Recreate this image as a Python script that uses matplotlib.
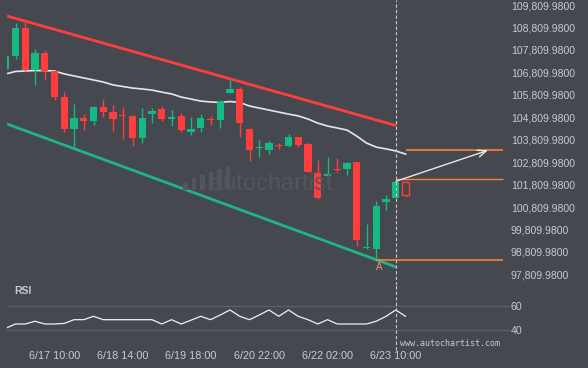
import matplotlib
matplotlib.use('Agg')
import matplotlib.pyplot as plt
from matplotlib.patches import Rectangle

# ---------------- data ----------------
opens = [106960, 107540, 108790, 106910, 107670, 106870, 105710, 104290, 104780, 104640,
         105270, 105040, 104910, 104870, 103890, 104950, 105180, 104730, 104870, 104150,
         104330, 104710, 104690, 105890, 106070, 104290, 103420, 103350, 103570, 103530,
         103930, 103620, 102330, 102190, 102480, 102500, 102820, 98990, 98940, 101040,
         101210, 101930]
highs = [107580, 109010, 109050, 107850, 107810, 106870, 105930, 105400, 104950, 105310,
         105620, 105360, 105270, 104910, 105220, 105220, 105310, 105130, 105000, 104820,
         104950, 104870, 105530, 106470, 106160, 104330, 103800, 103750, 103660, 104060,
         103930, 103710, 102910, 103040, 102990, 102820, 102820, 100060, 101080, 101350,
         102020, 101970]
lows = [106910, 107400, 106870, 106250, 106510, 105580, 104150, 103400, 104240, 104460,
        104820, 104200, 103840, 103530, 103660, 104550, 104640, 104420, 104150, 104020,
        104150, 104460, 104330, 105890, 103930, 102860, 103040, 103170, 103400, 103480,
        103480, 102370, 101170, 101840, 102370, 102240, 99080, 98940, 98450, 100680,
        101210, 101260]
closes = [107540, 108790, 106910, 107670, 106870, 105710, 104290, 104780, 104640, 105270,
          105040, 104730, 104870, 103890, 104780, 105090, 104730, 104820, 104240, 104290,
          104780, 104670, 105530, 106070, 104550, 103350, 103460, 103660, 103530, 103930,
          103570, 102370, 101210, 102280, 102440, 102770, 99340, 99030, 100860, 101170,
          101930, 101350]
ma_values = [106740, 106850, 106870, 106890, 106890, 106870, 106740, 106650, 106560, 106470,
             106380, 106250, 106180, 106110, 106070, 106020, 105930, 105850, 105710, 105620,
             105530, 105490, 105470, 105510, 105470, 105310, 105220, 105130, 105040, 104950,
             104870, 104730, 104550, 104420, 104330, 104240, 103970, 103660, 103480, 103400,
             103310, 103170]
rsi_values = [41.5, 45, 45, 47.3, 45, 45, 45.5, 48.6, 48.6, 51.4,
              48.6, 48.6, 48.6, 48.6, 48.6, 48.6, 45, 48.6, 45, 48.2,
              51.4, 48.6, 52.5, 56.7, 51.4, 48.6, 52.5, 56.7, 51.4, 56.7,
              51.4, 48.6, 45, 48.6, 45, 45, 45, 45, 47.3, 51.4,
              56.7, 51.4]
time_labels = ['6/17 10:00', '6/18 14:00', '6/19 18:00', '6/20 22:00', '6/22 02:00', '6/23 10:00']
time_label_idx = [5, 12, 19, 26, 33, 40]
price_ticks = [97809.98, 98809.98, 99809.98, 100809.98, 101809.98, 102809.98, 103809.98,
               104809.98, 105809.98, 106809.98, 107809.98, 108809.98, 109809.98]
rsi_ticks = [40, 60]

# channel / pattern geometry (index, price)
resist_x = [0.13, 40.03]
resist_y = [109320, 104440]
support_x = [0.13, 40.03]
support_y = [104510, 98140]
arrow_start = (40.03, 101960)
arrow_end = (49.46, 103338)
level_target = 103338
level_current = 102046
level_point_a = 98450
point_a_idx = 38
current_idx = 40

# ---------------- style ----------------
BG = '#45494f'
GREEN = '#17b982'
RED = '#ff3d3d'
TXT = '#c9cacc'
ORANGE = '#ff8030'
plt.rcParams['font.family'] = ['Liberation Sans', 'DejaVu Sans']

W, H = 588, 368
fig = plt.figure(figsize=(W / 100, H / 100), dpi=100, facecolor=BG)

x_left = (7 - 5.75) / 9.75
x_right = (505 - 5.75) / 9.75

ax = fig.add_axes([7 / W, (H - 285) / H, 498 / W, 285 / H], facecolor=BG)
ax.set_xlim(x_left, x_right)
ax.set_ylim(110032.7 - 44.543 * 285, 110032.7)

# watermark
fig.text(271 / W, 1 - 184 / H, 'autochartist', color='#52565c', fontsize=17,
         ha='center', va='center', zorder=0)
wm_heights = [8, 12, 15, 18, 21, 24]
for k, hgt in enumerate(wm_heights):
    fig.patches.append(Rectangle(((183 + 8.5 * k) / W, 1 - 190 / H), 4.5 / W, hgt / H,
                                 transform=fig.transFigure, facecolor='#52565c',
                                 edgecolor='none', zorder=0))

# MA line
idx = list(range(len(opens)))
ax.plot(idx, ma_values, color='#e6e6e6', lw=1.2, zorder=2)

# channel lines
ax.plot(resist_x, resist_y, color=RED, lw=2.0, solid_capstyle='butt', zorder=2)
ax.plot(support_x, support_y, color='#1db586', lw=2.0, solid_capstyle='butt', zorder=2)

# candles
bw = 0.72
minh = 45
for i in idx:
    o, h, l, c = opens[i], highs[i], lows[i], closes[i]
    col = GREEN if c >= o else RED
    ax.vlines(i, l, h, color=col, lw=1.0, zorder=3)
    bot = min(o, c)
    hh = max(abs(c - o), minh)
    if i == len(opens) - 1:
        ax.add_patch(Rectangle((i - bw / 2 + 0.05, bot), bw - 0.1, hh, facecolor=BG,
                               edgecolor=col, lw=1.0, zorder=4))
    else:
        ax.add_patch(Rectangle((i - bw / 2, bot), bw, hh, facecolor=col,
                               edgecolor='none', zorder=4))

# levels
ax.hlines(level_target, 41.05, 51.0, color=ORANGE, lw=1.2, zorder=3)
ax.hlines(level_current, 40.03, 51.0, color=ORANGE, lw=1.0, zorder=3)
ax.hlines(level_point_a, point_a_idx, 51.0, color=ORANGE, lw=1.2, zorder=3)
ax.annotate('', xy=arrow_end, xytext=arrow_start,
            arrowprops=dict(arrowstyle='->,head_length=0.6,head_width=0.25',
                            color='#e8e8e8', lw=1.0, shrinkA=0, shrinkB=0), zorder=5)
ax.text(point_a_idx + 0.3, 98140, 'A', color='#e8946c', fontsize=7, ha='center',
        va='center', zorder=5)

ax.axvline(current_idx, color='#c8c8c8', lw=0.8, ls=(0, (3, 2)), zorder=6)

ax.yaxis.tick_right()
ax.set_yticks(price_ticks)
ax.set_yticklabels([f'{v:,.4f}' for v in price_ticks])
ax.tick_params(axis='y', length=0, pad=4.3, labelsize=7.6, labelcolor=TXT)
ax.set_xticks([])
for s in ax.spines.values():
    s.set_visible(False)

# RSI panel
rx = fig.add_axes([7 / W, (H - 340) / H, 498 / W, 55 / H], facecolor=BG)
rx.set_xlim(x_left, x_right)
rx.set_ylim(40 - 10 / 1.2, 60 + 21 / 1.2)
for v in rsi_ticks:
    rx.axhline(v, xmin=0, xmax=(509 - 7) / 498, color='#5c6066', lw=1.0, clip_on=False, zorder=1)
rx.plot(idx, rsi_values, color='#f0f0f0', lw=0.9, zorder=3)
rx.axvline(current_idx, ymin=-10 / 55, ymax=1, color='#c8c8c8', lw=0.8, ls=(0, (3, 2)),
           clip_on=False, zorder=6)
rx.yaxis.tick_right()
rx.set_yticks(rsi_ticks)
rx.set_yticklabels([str(v) for v in rsi_ticks])
rx.tick_params(axis='y', length=0, pad=4.3, labelsize=7.6, labelcolor=TXT)
rx.set_xticks(time_label_idx)
rx.set_xticklabels(time_labels)
rx.tick_params(axis='x', length=0, pad=8, labelsize=7.8, labelcolor=TXT)
for s in rx.spines.values():
    s.set_visible(False)

fig.text(14 / W, 1 - 291 / H, 'RSI', color=TXT, fontsize=7.5, fontweight='bold',
         ha='left', va='center')
fig.text(400 / W, 1 - 344 / H, 'www.autochartist.com', color=TXT, fontsize=6,
         family='DejaVu Sans Mono', ha='left', va='center')

fig.savefig('out.png', dpi=100, facecolor=BG)
